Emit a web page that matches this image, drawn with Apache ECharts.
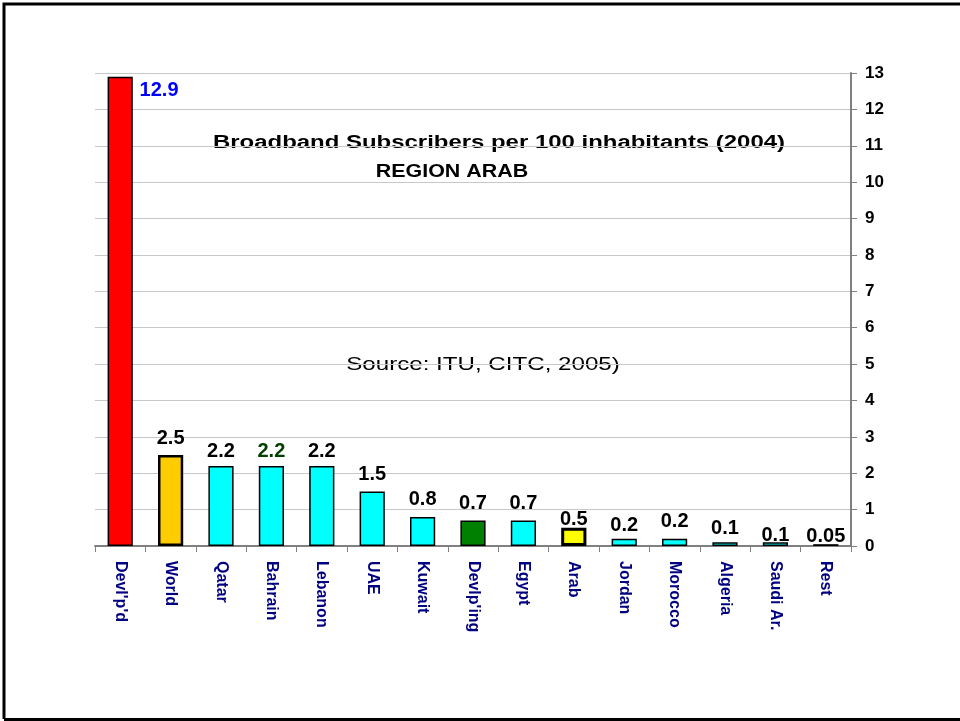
<!DOCTYPE html>
<html>
<head>
<meta charset="utf-8">
<title>Broadband Subscribers per 100 inhabitants (2004)</title>
<script src="https://cdn.jsdelivr.net/npm/echarts@6/dist/echarts.min.js"></script>
<style>
    html, body { margin: 0; padding: 0; background: #fff; }
    #chart { width: 960px; height: 721px; }
</style>
</head>
<body>
<div id="chart"></div>
<script>
var categories = ['Devl\'p\'d', 'World', 'Qatar', 'Bahrain', 'Lebanon', 'UAE', 'Kuwait',
    'Devlp\'ing', 'Egypt', 'Arab', 'Jordan', 'Morocco', 'Algeria', 'Saudi Ar.', 'Rest'];
var subscribers = [12.9, 2.5, 2.2, 2.2, 2.2, 1.5, 0.8, 0.7, 0.7, 0.5, 0.2, 0.2, 0.1, 0.1, 0.05];
var yTicks = [0, 13, 1];
var titleLines = ['Broadband Subscribers per 100 inhabitants (2004)', 'REGION ARAB'];
var sourceText = 'Source: ITU, CITC, 2005)';

// bar look, keyed by category
var fills = {
    'Devl\'p\'d': '#ff0000',
    'World': '#ffcc00',
    'Devlp\'ing': '#008000',
    'Arab': '#ffff00'
};
var thick = { 'World': 2.5, 'Arab': 3 };
var labelColor = { 'Devl\'p\'d': '#0000ff', 'Bahrain': '#004000' };
var lowLabel = { 'Arab': -2, 'Saudi Ar.': -3, 'Rest': -2, 'Jordan': 3, 'Qatar': 4, 'Bahrain': 4, 'Lebanon': 4, 'Algeria': 4 };

var font = '"Liberation Sans", Arial, sans-serif';

var data = categories.map(function (name, i) {
    var item = {
        value: subscribers[i],
        itemStyle: {
            color: fills[name] || '#00ffff',
            borderColor: '#000',
            borderWidth: thick[name] || 1.5
        },
        label: { color: labelColor[name] || '#000' }
    };
    if (i === 0) {
        item.label.position = 'insideTopLeft';
        item.label.offset = [25, -3];
    }
    if (lowLabel[name] !== undefined) {
        item.label.distance = lowLabel[name];
    }
    return item;
});

function stretchedText(text, x, y, size, weight, sx) {
    return {
        type: 'text',
        x: x,
        y: y,
        scaleX: sx,
        style: {
            text: text,
            fill: '#000',
            font: weight + ' ' + size + 'px ' + font,
            align: 'center',
            verticalAlign: 'middle'
        }
    };
}

var opts = {
    backgroundColor: '#fff',
    animation: false,
    textStyle: { fontFamily: font },
    grid: { left: 95, right: 109, top: 73, bottom: 175 },
    xAxis: {
        type: 'category',
        data: categories,
        axisLine: { lineStyle: { color: '#808080', width: 2 } },
        axisTick: { show: true, length: 6, lineStyle: { color: '#808080' } },
        axisLabel: {
            rotate: -90,
            margin: 15,
            color: '#000080',
            fontWeight: 'bold',
            fontSize: 16,
            fontFamily: font
        }
    },
    yAxis: {
        type: 'value',
        position: 'right',
        min: yTicks[0],
        max: yTicks[1],
        interval: yTicks[2],
        axisLine: { show: true, lineStyle: { color: '#808080', width: 2 } },
        axisTick: { show: true, length: 6, lineStyle: { color: '#808080' } },
        axisLabel: { color: '#000', fontWeight: 'bold', fontSize: 17, margin: 14, fontFamily: font },
        splitLine: { lineStyle: { color: '#c8c8c8', width: 1 } }
    },
    series: [
        {
            type: 'bar',
            barWidth: '50%',
            data: data,
            label: {
                show: true,
                position: 'top',
                distance: 7,
                fontSize: 20,
                fontWeight: 'bold',
                fontFamily: font
            }
        }
    ],
    graphic: [
        stretchedText(titleLines[0], 499, 143, 18, 'bold', 1.33),
        stretchedText(titleLines[1], 452, 172, 18, 'bold', 1.19),
        stretchedText(sourceText, 483, 365, 19, 'normal', 1.27),
        {
            type: 'polyline',
            shape: { points: [[4, 719], [4, 4], [960, 4]] },
            style: { stroke: '#000', lineWidth: 3, fill: null }
        },
        {
            type: 'line',
            shape: { x1: 4, y1: 719.5, x2: 960, y2: 719.5 },
            style: { stroke: '#000', lineWidth: 3 }
        }
    ]
};

echarts.init(document.getElementById('chart')).setOption(opts);
</script>
</body>
</html>
